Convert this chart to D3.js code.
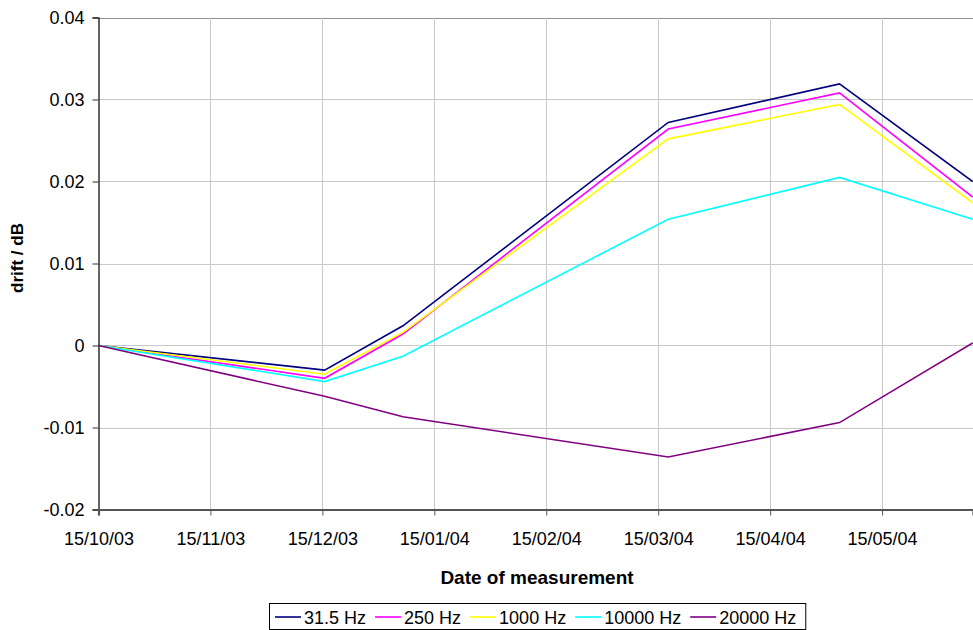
<!DOCTYPE html>
<html>
<head>
<meta charset="utf-8">
<script src="https://cdn.jsdelivr.net/npm/d3@7"></script>
<style>
  html, body { margin: 0; padding: 0; background: #fff; }
  svg { display: block; font-family: "Liberation Sans", Arial, sans-serif; }
</style>
</head>
<body>
<svg id="chart" width="973" height="630"></svg>
<script>
// Measurement positions, in months after 15/10/03 (axis ticks are one month apart)
const measurementMonths = [0, 2.02, 2.72, 5.09, 6.62, 7.81];
const tickMonths = [0, 1, 2, 3, 4, 5, 6, 7];
const tickLabels = ["15/10/03", "15/11/03", "15/12/03", "15/01/04", "15/02/04", "15/03/04", "15/04/04", "15/05/04"];
const yTicks = [-0.02, -0.01, 0, 0.01, 0.02, 0.03, 0.04];
const yTickLabels = ["-0.02", "-0.01", "0", "0.01", "0.02", "0.03", "0.04"];

const seriesNames = ["31.5 Hz", "250 Hz", "1000 Hz", "10000 Hz", "20000 Hz"];
const seriesColors = ["#000080", "#ff00ff", "#ffff00", "#00ffff", "#800080"];
const drift31_5 = [0, -0.0030, 0.0024, 0.0272, 0.0319, 0.0200];
const drift250 = [0, -0.0040, 0.0014, 0.0264, 0.0308, 0.0181];
const drift1000 = [0, -0.0035, 0.0016, 0.0252, 0.0294, 0.0174];
const drift10000 = [0, -0.0044, -0.0013, 0.0154, 0.0205, 0.0154];
const drift20000 = [0, -0.0062, -0.0087, -0.0136, -0.0094, 0.0003];
const seriesValues = [drift31_5, drift250, drift1000, drift10000, drift20000];

(function () {
const svg = d3.select("#chart");
const pLeft = 98.5, pRight = 973, pTop = 17.5, pBottom = 509.5;
const FS = 18;

const x = d3.scaleLinear().domain([0, 7.8125]).range([pLeft, pRight]);
const y = d3.scaleLinear().domain([-0.02, 0.04]).range([pBottom, pTop]);

// gridlines
const grid = svg.append("g");
grid.selectAll("line.h").data(yTicks.filter(v => v > -0.02)).enter().append("line")
  .attr("x1", pLeft).attr("x2", pRight)
  .attr("y1", d => Math.round(y(d)) + 0.5).attr("y2", d => Math.round(y(d)) + 0.5)
  .attr("stroke", d => d === 0.04 ? "#909090" : "#c8c8c8").attr("stroke-width", 1);
grid.selectAll("line.v").data(tickMonths.slice(1)).enter().append("line")
  .attr("x1", d => Math.round(x(d)) + 0.5).attr("x2", d => Math.round(x(d)) + 0.5)
  .attr("y1", pTop).attr("y2", pBottom)
  .attr("stroke", "#c8c8c8").attr("stroke-width", 1);

// lines
const line = d3.line().x((d, i) => x(measurementMonths[i])).y(d => y(d));
svg.append("g").selectAll("path").data(seriesValues).enter().append("path")
  .attr("d", d => line(d))
  .attr("fill", "none")
  .attr("stroke", (d, i) => seriesColors[i])
  .attr("stroke-width", 1.6)
  .attr("stroke-linejoin", "miter");

// y axis
const yAxis = d3.axisLeft(y).tickValues(yTicks).tickFormat((d, i) => yTickLabels[i]).tickSize(6).tickPadding(8);
const gy = svg.append("g").attr("transform", `translate(${pLeft},0)`).call(yAxis);
gy.select(".domain").attr("stroke", "#333").attr("stroke-width", 1.5);
gy.selectAll(".tick line").attr("stroke", "#333");
gy.selectAll(".tick text").attr("font-size", FS).attr("fill", "#000").attr("font-family", "Liberation Sans, Arial, sans-serif");

// x axis
const xAxis = d3.axisBottom(x).tickValues(tickMonths).tickFormat((d, i) => tickLabels[i]).tickSize(6).tickPadding(17);
const gx = svg.append("g").attr("transform", `translate(0,${pBottom})`).call(xAxis);
gx.select(".domain").attr("stroke", "#555").attr("stroke-width", 2.2);
gx.selectAll(".tick line").attr("stroke", "#555");
gx.selectAll(".tick text").attr("font-size", FS).attr("fill", "#000").attr("font-family", "Liberation Sans, Arial, sans-serif");

// axis titles
svg.append("text").attr("x", 537).attr("y", 584).attr("text-anchor", "middle")
  .attr("font-size", 19).attr("font-weight", "bold").text("Date of measurement");
svg.append("text").attr("transform", "translate(23,258) rotate(-90)").attr("text-anchor", "middle")
  .attr("font-size", 17).attr("font-weight", "bold").text("drift / dB");

// legend
const lg = svg.append("g");
const legY = 603, legH = 26, segW = 26;
const items = lg.selectAll("g.item").data(seriesNames).enter().append("g").attr("class", "item");
items.append("line").attr("x1", 0).attr("x2", segW).attr("y1", 0).attr("y2", 0)
  .attr("stroke", (d, i) => seriesColors[i]).attr("stroke-width", 1.6);
items.append("text").attr("x", segW + 3).attr("y", 6.5).attr("font-size", FS).text(d => d);
const widths = [];
items.each(function () { widths.push(segW + 3 + d3.select(this).select("text").node().getComputedTextLength() + 9); });
const total = d3.sum(widths) + 6;
const legX = Math.round(537 - total / 2);
let cx = legX + 6;
items.attr("transform", (d, i) => { const t = `translate(${cx},${legY + legH / 2 + 1})`; cx += widths[i]; return t; });
lg.insert("rect", ":first-child").attr("x", legX + 0.5).attr("y", legY + 0.5).attr("width", total).attr("height", legH)
  .attr("fill", "#fff").attr("stroke", "#000").attr("stroke-width", 1);
})();
</script>
</body>
</html>
